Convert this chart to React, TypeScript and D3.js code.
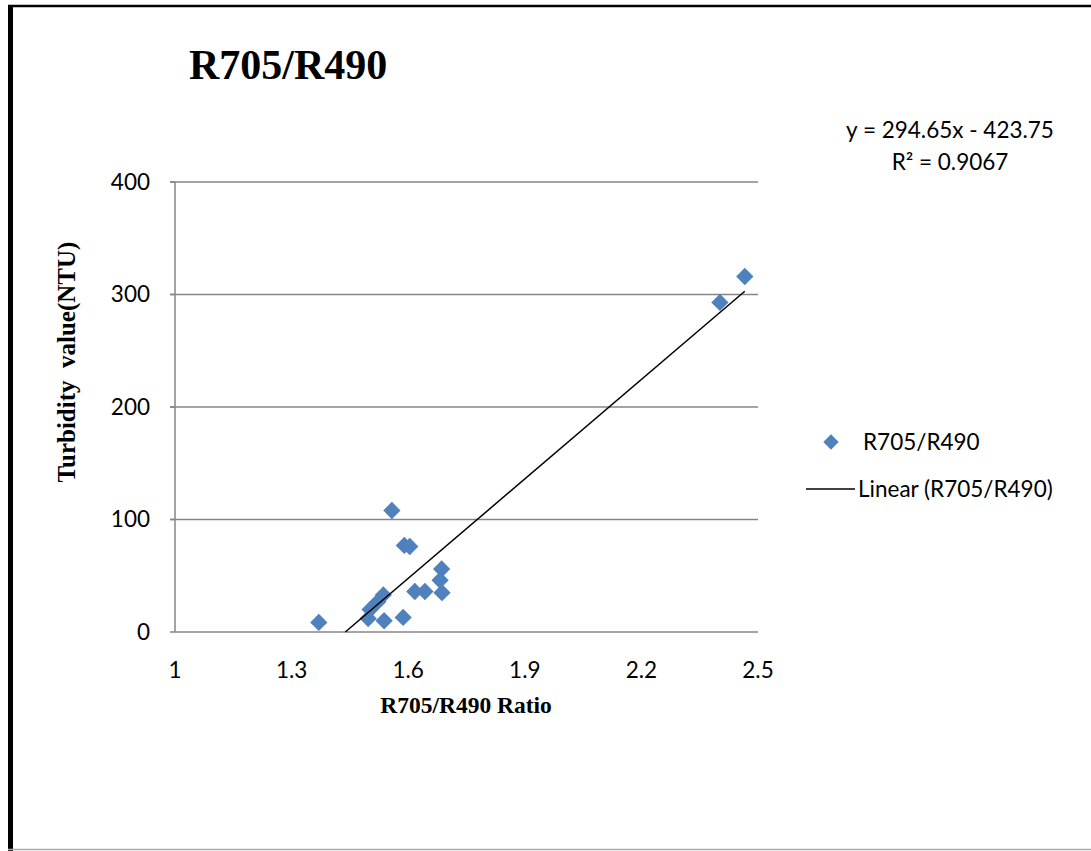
import React from "react";
import * as d3 from "d3";

const xValues = [1.37, 1.558, 1.59, 1.604, 1.686, 1.682, 1.687, 1.643, 1.617, 1.587, 1.536, 1.522, 1.502, 1.497, 1.538, 2.402, 2.466];
const yValues = [8.5, 108, 77, 76, 56, 46, 35, 36, 36, 13, 33, 27, 20, 12, 10, 293, 316];
const xTicks = [1, 1.3, 1.6, 1.9, 2.2, 2.5];
const yTicks = [0, 100, 200, 300, 400];
const slope = 294.65;
const intercept = -423.75;
const seriesName = "R705/R490";

export default function App() {
  const W = 1091, H = 851;
  const x = d3.scaleLinear().domain([1, 2.5]).range([175, 758]);
  const y = d3.scaleLinear().domain([0, 400]).range([632, 182]);
  const pts = xValues.map((v, i) => ({ x: v, y: yValues[i] }));
  const diamond = d3.symbol().type(d3.symbolDiamond2).size(190)();
  const legendDiamond = d3.symbol().type(d3.symbolDiamond2).size(150)();
  const x0 = Math.max(d3.min(xValues)!, -intercept / slope);
  const x1 = d3.max(xValues)!;
  const trend = d3.line<number>().x((v) => x(v)).y((v) => y(slope * v + intercept))([x0, x1]);
  const sans = "Lato, 'Open Sans', sans-serif";
  const serif = "'Liberation Serif', 'Times New Roman', serif";
  const fs = 22.5;
  return (
    <svg width={W} height={H} style={{ position: "absolute", left: 0, top: 0, background: "#fff" }}>
      <rect x={0} y={0} width={W} height={H} fill="#fff" />
      <line x1={8} x2={W} y1={6} y2={6} stroke="#000" strokeWidth={2.5} />
      <line x1={10.5} x2={10.5} y1={5} y2={H} stroke="#000" strokeWidth={5} />
      <line x1={8} x2={W} y1={849.5} y2={849.5} stroke="#aaa" strokeWidth={1.5} />
      <text x={189} y={79} fontFamily={serif} fontWeight="bold" fontSize={42}>R705/R490</text>
      {yTicks.map((t) => (
        <g key={t}>
          <line x1={t === 0 ? 175 : 170} x2={758} y1={y(t)} y2={y(t)} stroke="#868686" strokeWidth={1.5} />
          <line x1={170} x2={175} y1={y(t)} y2={y(t)} stroke="#868686" strokeWidth={1.5} />
          <text x={150} y={y(t)} dy="0.35em" textAnchor="end" fontFamily={sans} fontSize={fs}>{t}</text>
        </g>
      ))}
      <line x1={175} x2={175} y1={182} y2={632} stroke="#868686" strokeWidth={1.5} />
      {xTicks.map((t) => (
        <text key={t} x={x(t)} y={670} dy="0.35em" textAnchor="middle" fontFamily={sans} fontSize={fs}>{t}</text>
      ))}
      <text x={466} y={713} textAnchor="middle" fontFamily={serif} fontWeight="bold" fontSize={23.5}>R705/R490 Ratio</text>
      <text transform={`translate(75,362) rotate(-90)`} textAnchor="middle" fontFamily={serif} fontWeight="bold" fontSize={25} style={{ whiteSpace: "pre" }}>Turbidity  value(NTU)</text>
      {pts.map((p, i) => (
        <path key={i} d={diamond!} transform={`translate(${x(p.x)},${y(p.y)})`} fill="#4F81BD" />
      ))}
      <path d={trend!} stroke="#000" strokeWidth={1.5} fill="none" />
      <text x={950} y={130} dy="0.35em" textAnchor="middle" fontFamily={sans} fontSize={fs}>y = 294.65x - 423.75</text>
      <text x={950} y={162} dy="0.35em" textAnchor="middle" fontFamily={sans} fontSize={fs}>R² = 0.9067</text>
      <path d={legendDiamond!} transform="translate(831,442)" fill="#4F81BD" />
      <text x={863} y={442} dy="0.35em" fontFamily={sans} fontSize={fs}>{seriesName}</text>
      <line x1={806} x2={855} y1={489} y2={489} stroke="#000" strokeWidth={1.5} />
      <text x={858} y={489} dy="0.35em" fontFamily={sans} fontSize={fs}>{`Linear (${seriesName})`}</text>
    </svg>
  );
}
